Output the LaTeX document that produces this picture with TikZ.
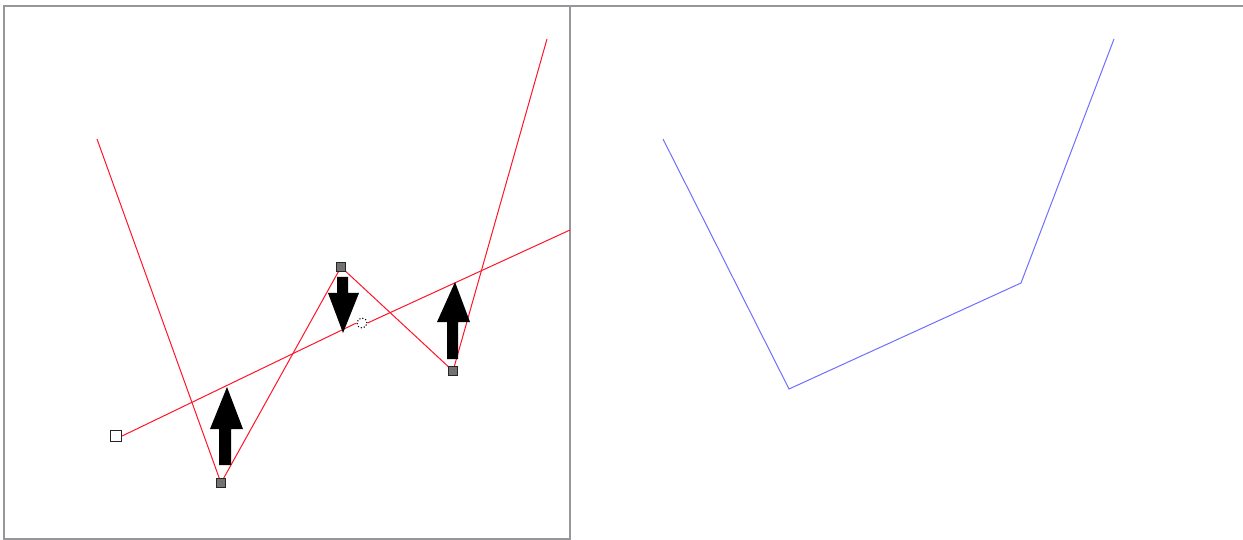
\documentclass[tikz,border=0pt]{standalone}
\begin{document}
\begin{tikzpicture}[x=1pt,y=-1pt,
  frame/.style={draw={rgb,255:red,150;green,150;blue,155},line width=2pt},
  redline/.style={draw={rgb,255:red,255;green,20;blue,40},line width=1pt},
  blueline/.style={draw={rgb,255:red,110;green,110;blue,255},line width=1pt},
  handle/.style={draw=black!85,fill=black!55,line width=1pt,minimum size=8.5pt,inner sep=0pt,rectangle},
  openhandle/.style={draw=black!85,fill=white,line width=1.2pt,minimum size=11pt,inner sep=0pt,rectangle},
  pivot/.style={draw=black,fill=white,dotted,line width=1.1pt,circle,minimum size=10pt,inner sep=0pt},
  bigarrow/.style={fill=black}]
\useasboundingbox (0,0) rectangle (1243,540);
% frame
\draw[frame] (1243,6) -- (4,6) -- (4,539) -- (570,539) -- (570,6);
% left panel coordinates
\coordinate (p0) at (97,139);
\coordinate (p4) at (547,39);
\coordinate (e) at (570,230);
\node[handle] (p1) at (221,483) {};
\node[handle] (p2) at (341,267) {};
\node[handle] (p3) at (453,371) {};
\node[openhandle] (s) at (116,436) {};
\node[pivot] (c) at (362,323) {};
% red zigzag
\draw[redline] (p0) -- (p1.center) -- (p2.center) -- (p3.center) -- (p4);
% red regression line
\draw[redline] (s.east) -- (c.west);
\draw[redline] (c.east) -- (e);
% arrows
\fill[bigarrow] (219,465) -- (219,429) -- (210,429) -- (227,387) -- (243,429) -- (231,429) -- (231,465) -- cycle;
\fill[bigarrow] (337,277) -- (337,293) -- (328,293) -- (343,333) -- (359,293) -- (348,293) -- (348,277) -- cycle;
\fill[bigarrow] (447,359) -- (447,322) -- (437,322) -- (455,282) -- (470,322) -- (458,322) -- (458,359) -- cycle;
% redraw handles on top
\node[handle] at (p1) {};
\node[handle] at (p2) {};
\node[handle] at (p3) {};
% right panel
\coordinate (q0) at (663,139);
\coordinate (q1) at (789,389);
\coordinate (q2) at (1021,283);
\coordinate (q3) at (1114,39);
\draw[blueline] (q0) -- (q1) -- (q2) -- (q3);
\end{tikzpicture}
\end{document}
